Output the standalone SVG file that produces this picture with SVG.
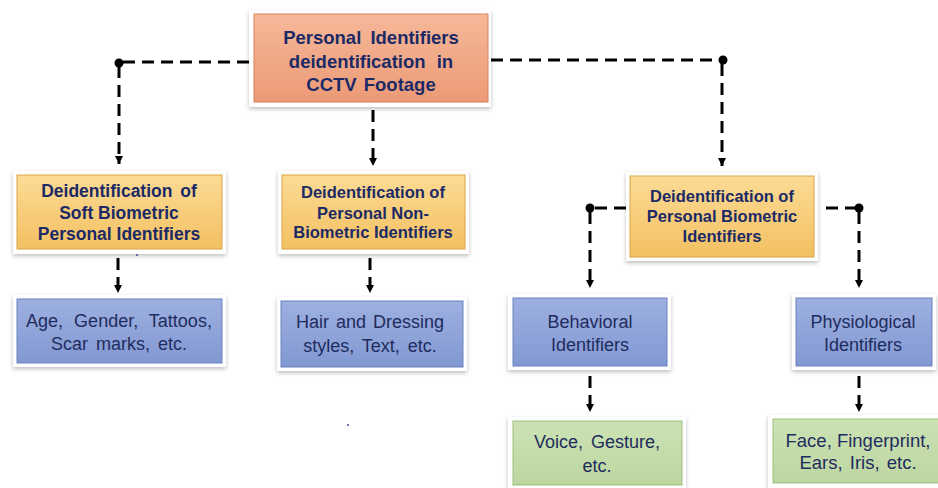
<svg xmlns="http://www.w3.org/2000/svg" width="938" height="488" viewBox="0 0 938 488">
<defs>
<filter id="sh" x="-10%" y="-10%" width="120%" height="130%">
<feDropShadow dx="0" dy="2" stdDeviation="2" flood-color="#000" flood-opacity="0.25"/>
</filter>
<linearGradient id="gTop" x1="0" y1="0" x2="0" y2="1"><stop offset="0" stop-color="#F6B899"/><stop offset="1" stop-color="#EC9A76"/></linearGradient>
<linearGradient id="gY" x1="0" y1="0" x2="0" y2="1"><stop offset="0" stop-color="#FCDB95"/><stop offset="1" stop-color="#F3C062"/></linearGradient>
<linearGradient id="gB" x1="0" y1="0" x2="0" y2="1"><stop offset="0" stop-color="#9DB0E0"/><stop offset="1" stop-color="#8298D2"/></linearGradient>
<linearGradient id="gG" x1="0" y1="0" x2="0" y2="1"><stop offset="0" stop-color="#CCE2B4"/><stop offset="1" stop-color="#BCD6A0"/></linearGradient>
<marker id="ah" viewBox="0 0 10 10" refX="10" refY="5" markerWidth="10" markerHeight="10" markerUnits="userSpaceOnUse" orient="auto">
<path d="M2,1 L10,5 L2,9 Z" fill="#000"/>
</marker>
</defs>
<style>
.frame{fill:#fff;filter:url(#sh)}
.top{fill:url(#gTop);stroke:#D9805C;stroke-width:1}
.yel{fill:url(#gY);stroke:#D9A545;stroke-width:1}
.blu{fill:url(#gB);stroke:#6C82C0;stroke-width:1}
.grn{fill:url(#gG);stroke:#9DBD7E;stroke-width:1}
.tb{font-family:"Liberation Sans",Arial,sans-serif;font-weight:bold;fill:#1B2A66;text-anchor:middle}
.tn{font-family:"Liberation Sans",Arial,sans-serif;fill:#1F2C5E;text-anchor:middle;font-size:18px}
.dash{fill:none;stroke:#000;stroke-width:3;stroke-dasharray:12 7}
.dot{fill:#000}
</style>
<rect width="938" height="488" fill="#fff"/>
<g id="connectors">
<path class="dash" d="M249,62 H120"/>
<path class="dash" d="M119,66 V164" marker-end="url(#ah)"/>
<circle class="dot" cx="119" cy="63" r="4.5"/>
<path class="dash" d="M491,60 H722"/>
<path class="dash" d="M722,64 V166" marker-end="url(#ah)"/>
<circle class="dot" cx="723" cy="60" r="4.5"/>
<path class="dash" d="M373,110 V166" marker-end="url(#ah)"/>
<path class="dash" d="M118,258 V293" marker-end="url(#ah)"/>
<path class="dash" d="M370,258 V293" marker-end="url(#ah)"/>
<path class="dash" d="M626,208 H594"/>
<path class="dash" d="M590,212 V288" marker-end="url(#ah)"/>
<circle class="dot" cx="590" cy="208" r="4.5"/>
<path class="dash" d="M826,208 H859"/>
<path class="dash" d="M859,212 V288" marker-end="url(#ah)"/>
<circle class="dot" cx="859" cy="208" r="4.5"/>
<path class="dash" d="M590,376 V412" marker-end="url(#ah)"/>
<path class="dash" d="M859,376 V412" marker-end="url(#ah)"/>
</g>
<g id="n-root">
<rect class="frame" x="249" y="10" width="242" height="97"/>
<rect class="top" x="254" y="14" width="234" height="88"/>
<text class="tb" font-size="18.5"><tspan x="371" y="44" word-spacing="4">Personal Identifiers</tspan><tspan x="371" y="68" word-spacing="6">deidentification in</tspan><tspan x="371" y="91" word-spacing="2">CCTV Footage</tspan></text>
</g>
<g id="n-soft">
<rect class="frame" x="13" y="171" width="213" height="83"/>
<rect class="yel" x="17" y="175" width="205" height="74"/>
<text class="tb" font-size="17.5"><tspan x="119" y="197" word-spacing="3">Deidentification of</tspan><tspan x="119" y="219">Soft Biometric</tspan><tspan x="119" y="240">Personal Identifiers</tspan></text>
</g>
<g id="n-nonbio">
<rect class="frame" x="278" y="171" width="191" height="83"/>
<rect class="yel" x="282" y="175" width="183" height="74"/>
<text class="tb" font-size="16.5"><tspan x="373" y="198">Deidentification of</tspan><tspan x="373" y="219">Personal Non-</tspan><tspan x="373" y="238">Biometric Identifiers</tspan></text>
</g>
<g id="n-bio">
<rect class="frame" x="626" y="172" width="192" height="89"/>
<rect class="yel" x="630" y="176" width="184" height="81"/>
<text class="tb" font-size="16.5"><tspan x="722" y="202">Deidentification of</tspan><tspan x="722" y="222">Personal Biometric</tspan><tspan x="722" y="242">Identifiers</tspan></text>
</g>
<g id="n-age">
<rect class="frame" x="13" y="295" width="213" height="72"/>
<rect class="blu" x="17" y="299" width="205" height="64"/>
<text class="tn"><tspan x="119" y="327" word-spacing="6">Age, Gender, Tattoos,</tspan><tspan x="119" y="350" word-spacing="3">Scar marks, etc.</tspan></text>
</g>
<g id="n-hair">
<rect class="frame" x="277" y="297" width="190" height="74"/>
<rect class="blu" x="281" y="301" width="182" height="66"/>
<text class="tn"><tspan x="370" y="328" word-spacing="2">Hair and Dressing</tspan><tspan x="370" y="352" word-spacing="3">styles, Text, etc.</tspan></text>
</g>
<g id="n-behav">
<rect class="frame" x="508" y="294" width="163" height="76"/>
<rect class="blu" x="513" y="298" width="154" height="68"/>
<text class="tn"><tspan x="590" y="328">Behavioral</tspan><tspan x="590" y="351">Identifiers</tspan></text>
</g>
<g id="n-physio">
<rect class="frame" x="792" y="294" width="144" height="76"/>
<rect class="blu" x="796" y="298" width="136" height="68"/>
<text class="tn"><tspan x="863" y="328">Physiological</tspan><tspan x="863" y="351">Identifiers</tspan></text>
</g>
<g id="n-voice">
<rect class="frame" x="508" y="417" width="178" height="71"/>
<rect class="grn" x="513" y="421" width="169" height="64"/>
<text class="tn"><tspan x="597" y="448" word-spacing="3">Voice, Gesture,</tspan><tspan x="597" y="472">etc.</tspan></text>
</g>
<g id="n-face">
<rect class="frame" x="768" y="415" width="175" height="73"/>
<rect class="grn" x="773" y="419" width="170" height="64"/>
<text class="tn" style="font-size:18.5px"><tspan x="858" y="447">Face, Fingerprint,</tspan><tspan x="858" y="469" word-spacing="2">Ears, Iris, etc.</tspan></text>
</g>
<circle cx="137" cy="255" r="1" fill="#3B4FA0"/>
<circle cx="348" cy="425" r="1" fill="#3B4FA0"/>
</svg>
